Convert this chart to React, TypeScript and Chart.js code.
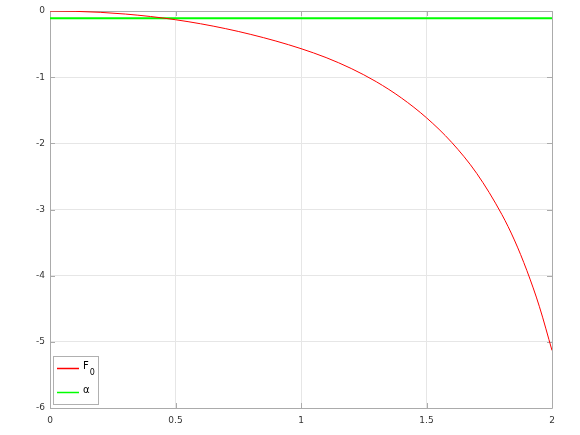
import React, { useEffect, useRef } from "react";
import { Chart, registerables } from "chart.js";

Chart.register(...registerables);

const X_VALUES = [0, 0.1, 0.2, 0.3, 0.4, 0.5, 0.6, 0.7, 0.8, 0.9, 1.0, 1.1, 1.2, 1.3, 1.4, 1.5, 1.6, 1.7, 1.8, 1.85, 1.9, 1.95, 2.0];
const F0_VALUES = [0, -0.005, -0.02, -0.046, -0.083, -0.132, -0.193, -0.267, -0.354, -0.454, -0.569, -0.704, -0.869, -1.069, -1.314, -1.614, -1.984, -2.454, -3.074, -3.46, -3.924, -4.47, -5.13];
const ALPHA_X = [0, 2];
const ALPHA_VALUES = [-0.108, -0.108];
const X_TICKS = [0, 0.5, 1, 1.5, 2];
const Y_TICKS = [0, -1, -2, -3, -4, -5, -6];
const SERIES_LABELS = ["F_0", "α"];
const SERIES_COLORS = ["#ff0000", "#00ff00"];

const FONT = "'DejaVu Sans', Verdana, sans-serif";

const framePlugin = {
  id: "frame",
  beforeDatasetsDraw(chart: any) {
    const { ctx, chartArea: a, scales } = chart;
    ctx.save();
    ctx.strokeStyle = "#ababab";
    ctx.lineWidth = 1;
    ctx.beginPath();
    ctx.rect(Math.round(a.left) + 0.5, Math.round(a.top) + 0.5, Math.round(a.right - a.left), Math.round(a.bottom - a.top));
    ctx.stroke();
    const tl = 5;
    ctx.beginPath();
    for (const t of X_TICKS) {
      const px = Math.round(scales.x.getPixelForValue(t)) + 0.5;
      ctx.moveTo(px, a.bottom);
      ctx.lineTo(px, a.bottom - tl);
      ctx.moveTo(px, a.top);
      ctx.lineTo(px, a.top + tl);
    }
    for (const t of Y_TICKS) {
      const py = Math.round(scales.y.getPixelForValue(t)) + 0.5;
      ctx.moveTo(a.left, py);
      ctx.lineTo(a.left + tl, py);
      ctx.moveTo(a.right, py);
      ctx.lineTo(a.right - tl, py);
    }
    ctx.stroke();
    ctx.restore();
  },
};

const legendPlugin = {
  id: "customLegend",
  afterDraw(chart: any) {
    const { ctx, chartArea: a } = chart;
    const left = Math.round(a.left) + 3;
    const bottom = Math.round(a.bottom) - 4;
    const w = 45;
    const h = 48;
    const top = bottom - h;
    ctx.save();
    ctx.fillStyle = "#ffffff";
    ctx.fillRect(left, top, w, h);
    ctx.strokeStyle = "#b0b0b0";
    ctx.lineWidth = 1;
    ctx.strokeRect(left + 0.5, top + 0.5, w, h);
    const rows = [top + 12.5, top + 36.5];
    SERIES_LABELS.forEach((label, i) => {
      const y = rows[i];
      ctx.strokeStyle = SERIES_COLORS[i];
      ctx.lineWidth = 1.5;
      ctx.beginPath();
      ctx.moveTo(left + 4, y);
      ctx.lineTo(left + 26, y);
      ctx.stroke();
      ctx.fillStyle = "#000000";
      ctx.textBaseline = "middle";
      ctx.textAlign = "left";
      const parts = label.split("_");
      ctx.font = `10px ${FONT}`;
      ctx.fillText(parts[0], left + 30, y - 2);
      if (parts[1]) {
        const wMain = ctx.measureText(parts[0]).width;
        ctx.font = `8px ${FONT}`;
        ctx.fillText(parts[1], left + 31 + wMain, y + 4);
      }
    });
    ctx.restore();
  },
};

export default function App() {
  const canvasRef = useRef<HTMLCanvasElement | null>(null);

  useEffect(() => {
    const canvas = canvasRef.current;
    if (!canvas) return;
    const chart = new Chart(canvas, {
      type: "line",
      data: {
        datasets: [
          {
            label: SERIES_LABELS[0],
            data: X_VALUES.map((x, i) => ({ x, y: F0_VALUES[i] })),
            borderColor: SERIES_COLORS[0],
            borderWidth: 1,
            pointRadius: 0,
            cubicInterpolationMode: "monotone",
            fill: false,
          },
          {
            label: SERIES_LABELS[1],
            data: ALPHA_X.map((x, i) => ({ x, y: ALPHA_VALUES[i] })),
            borderColor: SERIES_COLORS[1],
            borderWidth: 2,
            pointRadius: 0,
            fill: false,
          },
        ],
      },
      options: {
        animation: false,
        responsive: false,
        maintainAspectRatio: false,
        devicePixelRatio: 1,
        layout: { padding: { left: 0, right: 28, top: 11, bottom: 0 } },
        plugins: {
          legend: { display: false },
          tooltip: { enabled: false },
        },
        scales: {
          x: {
            type: "linear",
            min: 0,
            max: 2,
            afterBuildTicks: (s: any) => {
              s.ticks = X_TICKS.map((v) => ({ value: v }));
            },
            afterFit: (s: any) => {
              s.height = 27;
            },
            grid: { color: "#e6e6e6", drawTicks: false, lineWidth: 1 },
            border: { display: false },
            ticks: {
              padding: 7,
              color: "#333333",
              font: { family: FONT, size: 9 },
              callback: (v: any) => String(v),
              maxRotation: 0,
              autoSkip: false,
            },
          },
          y: {
            type: "linear",
            min: -6,
            max: 0,
            afterBuildTicks: (s: any) => {
              s.ticks = Y_TICKS.map((v) => ({ value: v }));
            },
            afterFit: (s: any) => {
              s.width = 50;
            },
            grid: { color: "#e6e6e6", drawTicks: false, lineWidth: 1 },
            border: { display: false },
            ticks: {
              padding: 5,
              color: "#333333",
              font: { family: FONT, size: 9 },
              callback: (v: any) => String(v),
              autoSkip: false,
            },
          },
        },
      },
      plugins: [framePlugin, legendPlugin],
    });
    return () => chart.destroy();
  }, []);

  return (
    <div style={{ position: "absolute", left: 0, top: 0, width: 580, height: 435, background: "#ffffff" }}>
      <canvas ref={canvasRef} width={580} height={435} style={{ display: "block", width: 580, height: 435 }} />
    </div>
  );
}
